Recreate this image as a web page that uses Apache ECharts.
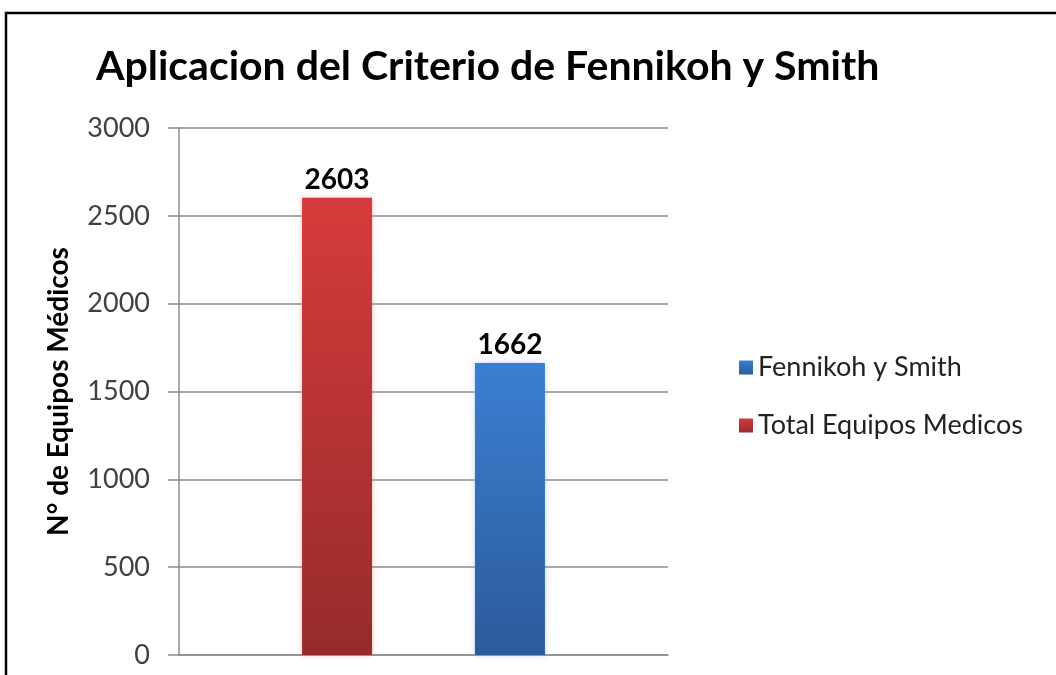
<!DOCTYPE html>
<html>
<head>
<meta charset="utf-8">
<script src="https://cdn.jsdelivr.net/npm/echarts@6/dist/echarts.min.js"></script>
<style>
html,body{margin:0;padding:0;background:#fff;}
#chart{width:1056px;height:675px;}
</style>
</head>
<body>
<div id="chart"></div>
<script>
var titleText = 'Aplicacion del Criterio de Fennikoh y Smith';
var yAxisName = 'N° de Equipos Médicos';
var categories = [''];
var seriesNames = ['Total Equipos Medicos', 'Fennikoh y Smith'];
var totalEquipos = [2603];
var fennikohSmith = [1662];
var legendOrder = ['Fennikoh y Smith', 'Total Equipos Medicos'];
var yTicks = [0, 500, 1000, 1500, 2000, 2500, 3000];

var chart = echarts.init(document.getElementById('chart'), null, {renderer: 'canvas'});
var fontMain = 'Lato, "Open Sans", "Noto Sans", sans-serif';

function grad(top, bottom) {
  return new echarts.graphic.LinearGradient(0, 0, 0, 1, [
    {offset: 0, color: top}, {offset: 1, color: bottom}
  ]);
}

var option = {
  backgroundColor: '#fff',
  animation: false,
  title: {
    text: titleText,
    left: 91,
    top: 41,
    textStyle: {fontFamily: fontMain, fontWeight: 'bold', fontSize: 41, color: '#000'}
  },
  graphic: [{
    type: 'rect', silent: true, z: 100,
    shape: {x: 6, y: 13, width: 1120, height: 720},
    style: {fill: null, stroke: '#000', lineWidth: 2.5}
  }],
  legend: {
    orient: 'vertical',
    left: 734,
    top: 349,
    itemWidth: 14,
    itemHeight: 14,
    itemGap: 31,
    icon: 'rect',
    textStyle: {fontFamily: fontMain, fontSize: 27, color: '#222'}
  },
  grid: {left: 179, right: 388, top: 128, bottom: 20, containLabel: false},
  xAxis: {
    type: 'category',
    data: categories,
    axisLine: {show: true, lineStyle: {color: '#8c8c8c', width: 1.5}},
    axisTick: {show: false},
    axisLabel: {show: false}
  },
  yAxis: {
    type: 'value',
    min: yTicks[0],
    max: yTicks[yTicks.length - 1],
    interval: yTicks[1] - yTicks[0],
    name: yAxisName,
    nameLocation: 'middle',
    nameGap: 106,
    nameTextStyle: {fontFamily: fontMain, fontWeight: 'bold', fontSize: 28, color: '#000'},
    axisLine: {show: true, lineStyle: {color: '#8c8c8c', width: 1.5}},
    axisTick: {show: true, length: 11, lineStyle: {color: '#8c8c8c', width: 1.5}},
    axisLabel: {margin: 29, fontFamily: fontMain, fontSize: 27, color: '#404040',
      formatter: function (v) { return String(v); }},
    splitLine: {show: true, lineStyle: {color: '#8c8c8c', width: 1.5}}
  },
  series: [{
    name: seriesNames[0],
    type: 'bar',
    data: totalEquipos,
    barWidth: 70,
    barGap: '147%',
    itemStyle: {color: grad('#d63b3b', '#962b2b'), shadowColor: 'rgba(240,120,120,0.45)', shadowBlur: 6},
    label: {show: true, position: 'top', distance: 4, fontFamily: fontMain, fontWeight: 'bold', fontSize: 28, color: '#000'}
  }, {
    name: seriesNames[1],
    type: 'bar',
    data: fennikohSmith,
    barWidth: 70,
    itemStyle: {color: grad('#3b7fd2', '#2c5a9a'), shadowColor: 'rgba(120,160,240,0.45)', shadowBlur: 6},
    label: {show: true, position: 'top', distance: 4, fontFamily: fontMain, fontWeight: 'bold', fontSize: 28, color: '#000'}
  }]
};
option.legend.data = legendOrder.map(function (n) { return {name: n}; });
chart.setOption(option);
</script>
</body>
</html>
